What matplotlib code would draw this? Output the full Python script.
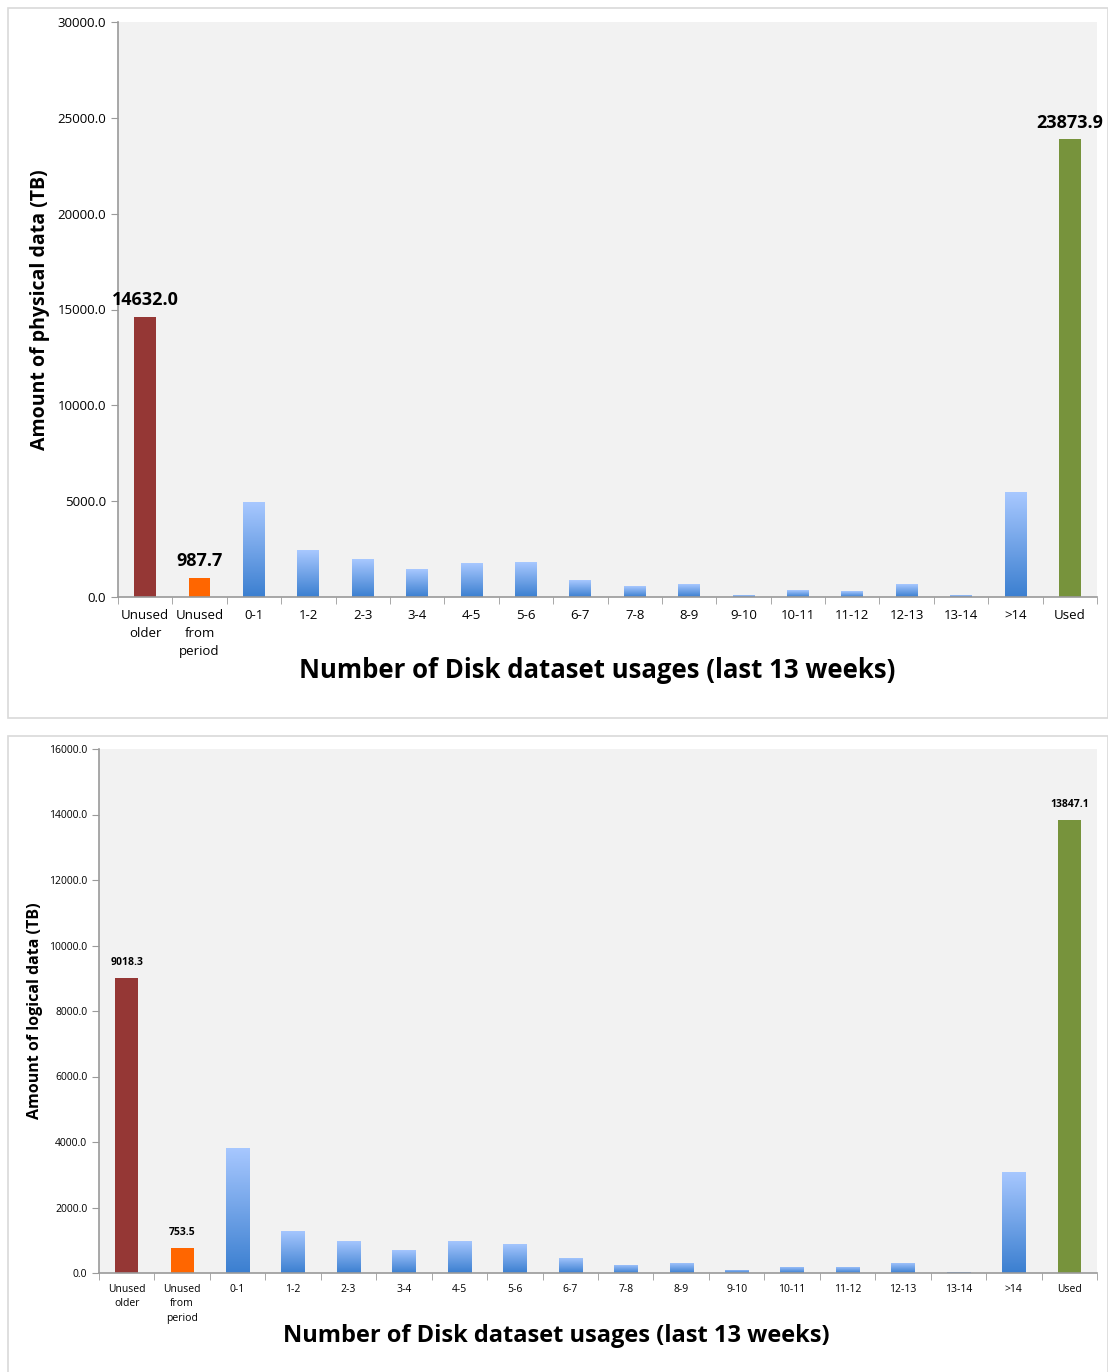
import numpy as np
import matplotlib
matplotlib.use('Agg')
import matplotlib.pyplot as plt
from matplotlib.patches import Rectangle

plt.rcParams['font.family'] = ['Open Sans', 'DejaVu Sans']

# categories (x axis)
categories = ['Unused\nolder', 'Unused\nfrom\nperiod', '0-1', '1-2', '2-3', '3-4', '4-5',
              '5-6', '6-7', '7-8', '8-9', '9-10', '10-11', '11-12', '12-13', '13-14',
              '>14', 'Used']

# physical data (TB)
physical = [14632.0, 987.7, 4940, 2450, 1966, 1445, 1758, 1810, 871, 558, 662, 90,
            350, 297, 662, 80, 5462, 23873.9]
# logical data (TB)
logical = [9018.3, 753.5, 3826, 1292, 986, 711, 986, 895, 467, 253, 315, 100,
           193, 193, 315, 35, 3093, 13847.1]

labelled = [0, 1, 17]  # bars that carry a value label

W, H = 1108, 1372
fig = plt.figure(figsize=(W / 100, H / 100), dpi=100)

# panel frames
for (y0, y1) in [(8, 718), (736, 1380)]:
    fig.patches.append(Rectangle((8 / W, 1 - y1 / H), (W - 8) / W, (y1 - y0) / H,
                                 transform=fig.transFigure, facecolor='white',
                                 edgecolor='#D9D9D9', linewidth=1.2, zorder=-5))

special = {0: '#953735', 1: '#FF6600', 17: '#77933C'}
grad = np.linspace(0, 1, 256).reshape(-1, 1)
cmap = matplotlib.colors.LinearSegmentedColormap.from_list('b', ['#3B7FD0', '#A8C8FF'])


def draw_panel(ax, vals, ymax, ystep, barw, tick_fs, lab_fs, lab_off, lsp, pad):
    ax.set_facecolor('#F2F2F2')
    x = np.arange(len(vals))
    bars = ax.bar(x, vals, width=barw, color='none', linewidth=0, zorder=2)
    for i, b in enumerate(bars):
        if i in special:
            b.set_facecolor(special[i])
        else:
            bx = b.get_x()
            im = ax.imshow(grad, cmap=cmap, aspect='auto', zorder=2, origin='lower',
                           extent=[bx, bx + b.get_width(), 0, b.get_height()])
            im.set_clip_path(b)
    for i in labelled:
        ax.text(x[i], vals[i] + lab_off, f'{vals[i]:.1f}', ha='center', va='bottom',
                fontsize=lab_fs, fontweight='bold', color='black')
    ax.set_xlim(-0.5, len(vals) - 0.5)
    ax.set_ylim(0, ymax)
    ax.set_yticks(np.arange(0, ymax + 1, ystep))
    ax.set_yticklabels([f'{v:.1f}' for v in np.arange(0, ymax + 1, ystep)], fontsize=tick_fs)
    ax.set_xticks(x)
    ax.set_xticklabels(categories, fontsize=tick_fs, linespacing=lsp, va='top')
    ax.set_xticks(np.arange(-0.5, len(vals)), minor=True)
    ax.tick_params(axis='x', which='major', length=0, pad=pad)
    ax.tick_params(axis='x', which='minor', length=5, color='#9A9A9A')
    ax.tick_params(axis='y', length=5, color='#9A9A9A')
    for s in ['top', 'right']:
        ax.spines[s].set_visible(False)
    for s in ['left', 'bottom']:
        ax.spines[s].set_color('#9A9A9A')
        ax.spines[s].set_linewidth(1.2)


ax1 = fig.add_axes([118 / W, 1 - 597 / H, (1097 - 118) / W, 575 / H])
draw_panel(ax1, physical, 30000, 5000, 0.4, 9.5, 13, 400, 1.5, 8.5)
fig.text(597 / W, 1 - 670 / H, 'Number of Disk dataset usages (last 13 weeks)',
         ha='center', va='center', fontsize=18.5, fontweight='bold')
fig.text(40 / W, 1 - 310 / H, 'Amount of physical data (TB)', rotation=90,
         ha='center', va='center', fontsize=14, fontweight='bold')

ax2 = fig.add_axes([99 / W, 1 - 1273 / H, (1097 - 99) / W, 524 / H])
draw_panel(ax2, logical, 16000, 2000, 0.42, 7.5, 7.5, 300, 1.4, 8)
fig.text(556 / W, 1 - 1336 / H, 'Number of Disk dataset usages (last 13 weeks)',
         ha='center', va='center', fontsize=17, fontweight='bold')
fig.text(35 / W, 1 - 1011 / H, 'Amount of logical data (TB)', rotation=90,
         ha='center', va='center', fontsize=11.5, fontweight='bold')

fig.savefig('out.png', dpi=100)
